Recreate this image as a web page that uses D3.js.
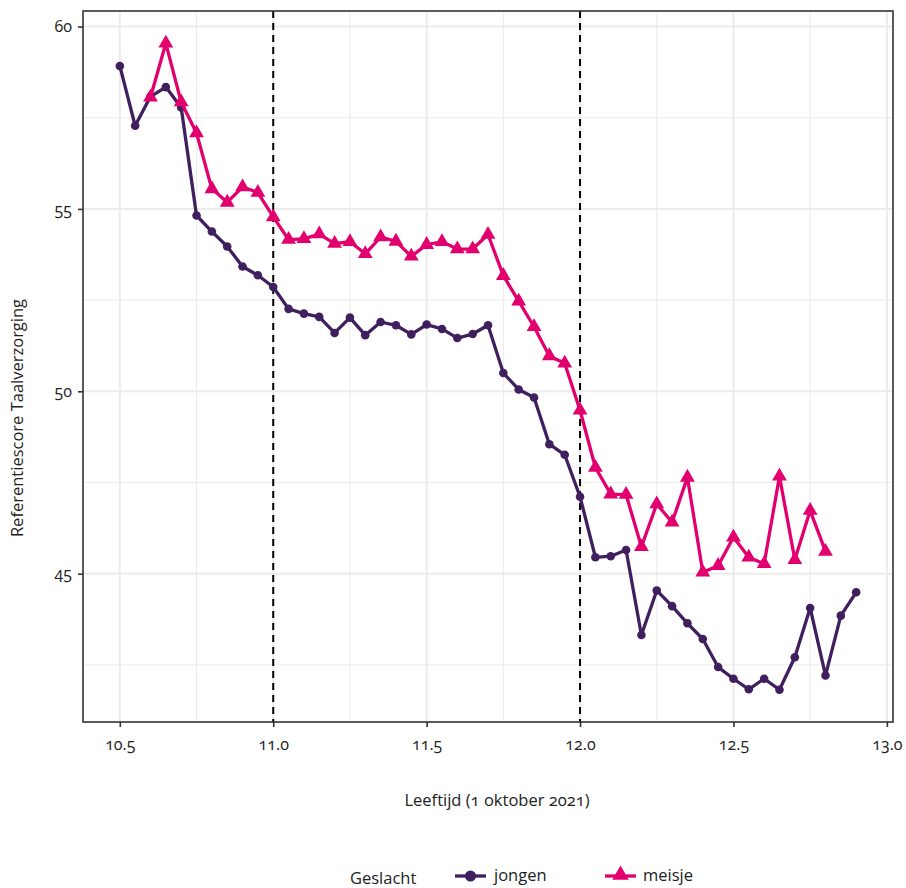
<!DOCTYPE html>
<html>
<head>
<meta charset="utf-8">
<script src="https://cdn.jsdelivr.net/npm/d3@7/dist/d3.min.js"></script>
<style>
  html, body { margin: 0; padding: 0; background: #fff; }
  svg text { font-family: "Open Sans", "Noto Sans", sans-serif; font-variant-numeric: oldstyle-nums; fill: #222; }
</style>
</head>
<body>
<svg id="chart" width="906" height="888"></svg>
<script>
// ---- data ----
const agesJongen = [10.50,10.55,10.60,10.65,10.70,10.75,10.80,10.85,10.90,10.95,
  11.00,11.05,11.10,11.15,11.20,11.25,11.30,11.35,11.40,11.45,
  11.50,11.55,11.60,11.65,11.70,11.75,11.80,11.85,11.90,11.95,
  12.00,12.05,12.10,12.15,12.20,12.25,12.30,12.35,12.40,12.45,
  12.50,12.55,12.60,12.65,12.70,12.75,12.80,12.85,12.90];
const scoresJongen = [58.92,57.28,58.08,58.34,57.78,54.82,54.38,53.97,53.42,53.18,
  52.86,52.26,52.13,52.04,51.60,52.02,51.54,51.90,51.81,51.56,
  51.83,51.71,51.46,51.57,51.81,50.50,50.05,49.83,48.55,48.26,
  47.11,45.45,45.48,45.65,43.32,44.54,44.11,43.64,43.21,42.44,
  42.12,41.83,42.12,41.82,42.71,44.06,42.21,43.85,44.49];

const agesMeisje = [10.60,10.65,10.70,10.75,10.80,10.85,10.90,10.95,
  11.00,11.05,11.10,11.15,11.20,11.25,11.30,11.35,11.40,11.45,
  11.50,11.55,11.60,11.65,11.70,11.75,11.80,11.85,11.90,11.95,
  12.00,12.05,12.10,12.15,12.20,12.25,12.30,12.35,12.40,12.45,
  12.50,12.55,12.60,12.65,12.70,12.75,12.80];
const scoresMeisje = [58.06,59.54,57.93,57.08,55.55,55.18,55.60,55.45,
  54.78,54.16,54.18,54.31,54.05,54.10,53.77,54.23,54.11,53.70,
  54.02,54.10,53.90,53.90,54.30,53.17,52.47,51.77,50.97,50.77,
  49.48,47.91,47.18,47.17,45.74,46.91,46.41,47.64,45.04,45.22,
  46.00,45.45,45.27,47.67,45.38,46.73,45.61];

const xTicks = [10.5, 11.0, 11.5, 12.0, 12.5, 13.0];
const xMinor = [10.75, 11.25, 11.75, 12.25, 12.75];
const yTicks = [45, 50, 55, 60];
const yMinor = [42.5, 47.5, 52.5, 57.5];
const vLines = [11, 12];
const groups = ["jongen", "meisje"];
const colors = {jongen: "#3f1f5e", meisje: "#e2006f"};

// ---- layout ----
const svg = d3.select("#chart");
const L = 83, R = 893, T = 11, B = 722;

const allX = agesJongen.concat(agesMeisje);
const allY = scoresJongen.concat(scoresMeisje);
const xr = d3.extent(allX), yr = d3.extent(allY);
const xe = (xr[1]-xr[0])*0.05, ye = (yr[1]-yr[0])*0.05;
const x = d3.scaleLinear().domain([xr[0]-xe, xr[1]+xe]).range([L, R]);
const y = d3.scaleLinear().domain([yr[0]-ye, yr[1]+ye]).range([B, T]);

const g = svg.append("g");

// grid
g.selectAll(".xmin").data(xMinor).join("line")
  .attr("x1", d => x(d)).attr("x2", d => x(d)).attr("y1", T).attr("y2", B)
  .attr("stroke", "#ebebeb").attr("stroke-width", 1);
g.selectAll(".ymin").data(yMinor).join("line")
  .attr("x1", L).attr("x2", R).attr("y1", d => y(d)).attr("y2", d => y(d))
  .attr("stroke", "#ebebeb").attr("stroke-width", 1);
g.selectAll(".xmaj").data(xTicks).join("line")
  .attr("x1", d => x(d)).attr("x2", d => x(d)).attr("y1", T).attr("y2", B)
  .attr("stroke", "#ebebeb").attr("stroke-width", 2);
g.selectAll(".ymaj").data(yTicks).join("line")
  .attr("x1", L).attr("x2", R).attr("y1", d => y(d)).attr("y2", d => y(d))
  .attr("stroke", "#ebebeb").attr("stroke-width", 2);

// dashed vertical lines
g.selectAll(".vl").data(vLines).join("line")
  .attr("x1", d => x(d)).attr("x2", d => x(d)).attr("y1", T).attr("y2", B)
  .attr("stroke", "#000").attr("stroke-width", 2).attr("stroke-dasharray", "7,5");

// series
const series = [
  {name: "jongen", xs: agesJongen, ys: scoresJongen},
  {name: "meisje", xs: agesMeisje, ys: scoresMeisje}
];
const line = d3.line().x(d => x(d[0])).y(d => y(d[1]));
const triSym = d3.symbol().type(d3.symbolTriangle).size(95);

series.forEach(s => {
  const pts = s.xs.map((v, i) => [v, s.ys[i]]);
  g.append("path").datum(pts).attr("d", line)
    .attr("fill", "none").attr("stroke", colors[s.name]).attr("stroke-width", 3.3)
    .attr("stroke-linejoin", "round");
  if (s.name === "jongen") {
    g.selectAll(".pj").data(pts).join("circle")
      .attr("cx", d => x(d[0])).attr("cy", d => y(d[1])).attr("r", 4.3)
      .attr("fill", colors[s.name]);
  } else {
    g.selectAll(".pm").data(pts).join("path")
      .attr("d", triSym)
      .attr("transform", d => `translate(${x(d[0])},${y(d[1])})`)
      .attr("fill", colors[s.name]);
  }
});

// panel border
g.append("rect").attr("x", L).attr("y", T).attr("width", R-L).attr("height", B-T)
  .attr("fill", "none").attr("stroke", "#333").attr("stroke-width", 1.6);

// axes
const xAxis = d3.axisBottom(x).tickValues(xTicks).tickFormat(d3.format(".1f")).tickSize(5).tickPadding(12);
const yAxis = d3.axisLeft(y).tickValues(yTicks).tickFormat(d3.format("d")).tickSize(5).tickPadding(6);
const gx = svg.append("g").attr("transform", `translate(0,${B})`).call(xAxis);
const gy = svg.append("g").attr("transform", `translate(${L},0)`).call(yAxis);
[gx, gy].forEach(a => {
  a.select(".domain").remove();
  a.selectAll(".tick line").attr("stroke", "#333").attr("stroke-width", 1.6);
  a.selectAll(".tick text").attr("font-size", 16).attr("fill", "#333");
});

// titles
svg.append("text").attr("x", 497).attr("y", 806).attr("text-anchor", "middle")
  .attr("font-size", 16.5).text("Leeftijd (1 oktober 2021)");
svg.append("text").attr("transform", "translate(23,418) rotate(-90)").attr("text-anchor", "middle")
  .attr("font-size", 16.5).text("Referentiescore Taalverzorging");

// legend
const lg = svg.append("g");
lg.append("text").attr("x", 350).attr("y", 884).attr("font-size", 16.5).text("Geslacht");
const items = [{name: "jongen", kx: 455, tx: 494}, {name: "meisje", kx: 605, tx: 643}];
items.forEach(it => {
  lg.append("line").attr("x1", it.kx).attr("x2", it.kx + 31).attr("y1", 876).attr("y2", 876)
    .attr("stroke", colors[it.name]).attr("stroke-width", 3.3);
  if (it.name === "jongen") {
    lg.append("circle").attr("cx", it.kx + 15.5).attr("cy", 876).attr("r", 5.5).attr("fill", colors[it.name]);
  } else {
    lg.append("path").attr("d", d3.symbol().type(d3.symbolTriangle).size(120)())
      .attr("transform", `translate(${it.kx + 15.5},875)`).attr("fill", colors[it.name]);
  }
  lg.append("text").attr("x", it.tx).attr("y", 881).attr("font-size", 16.5).text(it.name);
});
</script>
</body>
</html>
